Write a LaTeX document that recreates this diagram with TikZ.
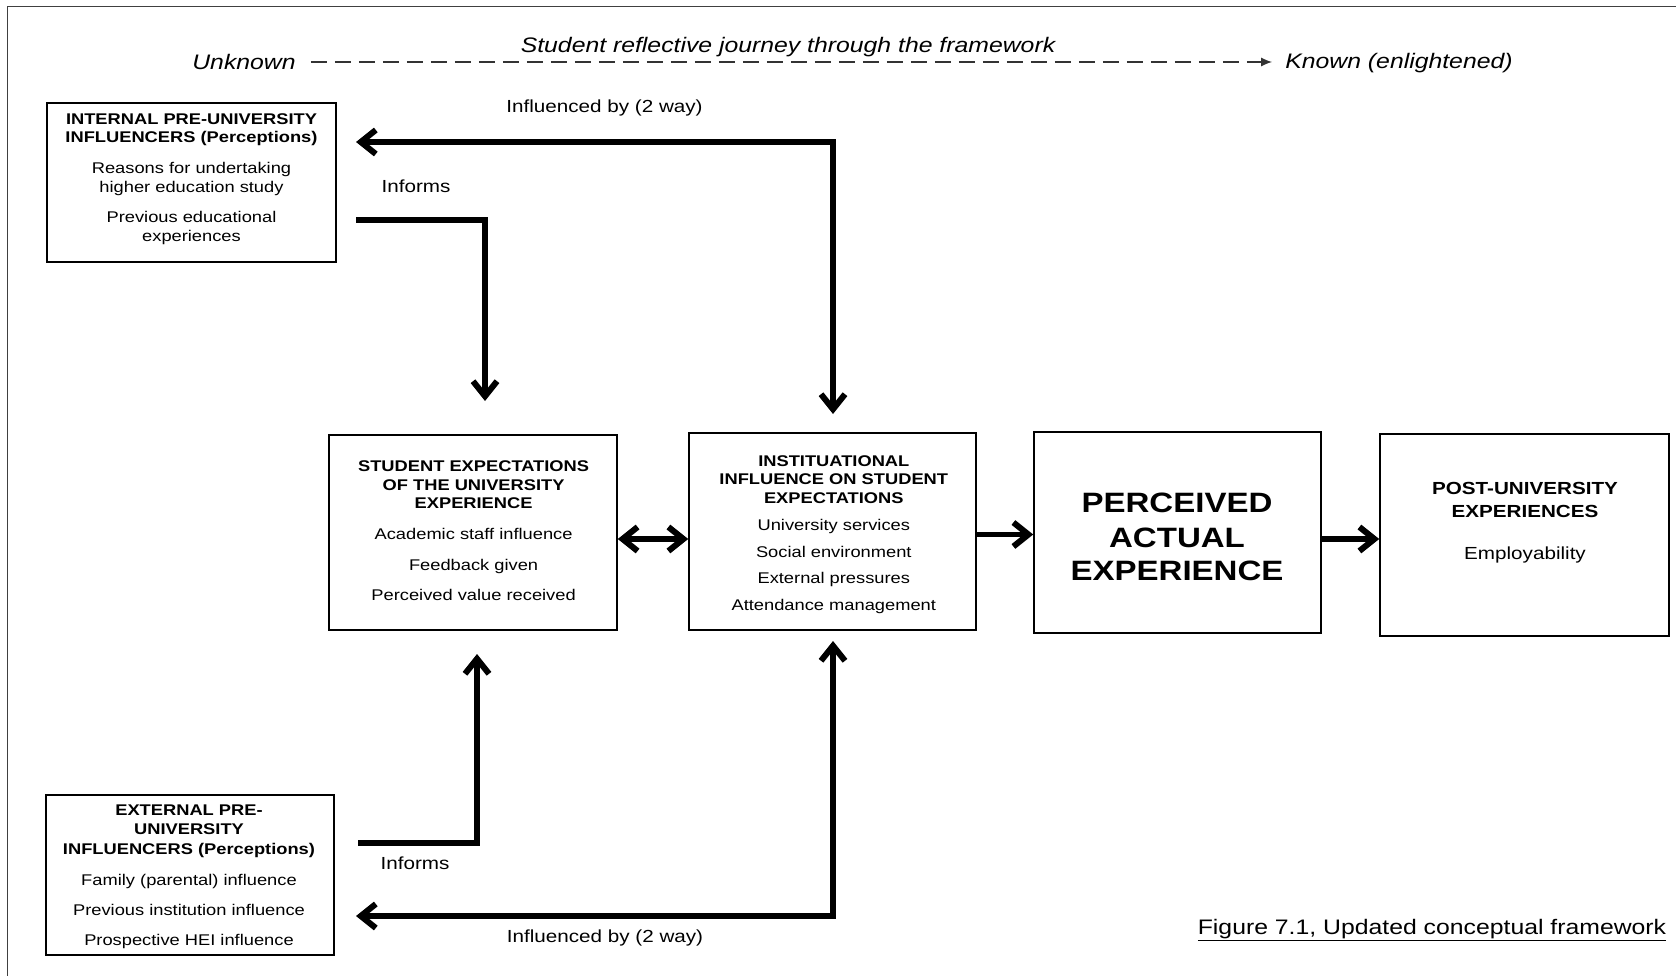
\documentclass[tikz,border=0pt]{standalone}
\usepackage{fontspec}
\setmainfont{Liberation Sans}[FakeStretch=1.18]
\usetikzlibrary{arrows.meta}
\begin{document}
\begin{tikzpicture}[x=1pt,y=-1pt,
  box/.style={draw, line width=1.6pt, inner sep=0pt},
  tx/.style={inner sep=0pt, text height=11pt, text depth=0pt, font=\fontsize{15.5}{18}\selectfont},
  ttl/.style={tx, font=\fontsize{15.5}{18}\selectfont\bfseries},
  big/.style={inner sep=0pt, text height=12.5pt, text depth=0pt, font=\fontsize{17.5}{20}\selectfont},
  bigttl/.style={big, font=\fontsize{17.5}{20}\selectfont\bfseries},
  huge/.style={inner sep=0pt, text height=20pt, text depth=0pt, font=\fontsize{28}{32}\selectfont\bfseries},
  head/.style={inner sep=0pt, text height=15pt, text depth=0pt, font=\fontsize{21}{24}\selectfont\itshape},
  barb/.tip={Straight Barb[length=15pt,width=24pt,line width=6pt]},
  arr/.style={line width=5.5pt, -barb},
  dbl/.style={line width=5.5pt, barb-barb},
  dashline/.style={line width=1.5pt, draw=black!80, dash pattern=on 16pt off 8pt, -{Latex[length=11pt,width=9pt]}}
]
\useasboundingbox (0,0) rectangle (1676,976);
% frame
\draw[line width=1.2pt, draw=black!75] (1676,6.4) -- (7.5,6.4) -- (7.5,976);

% header
\node[head] (title) at (788,45) {Student reflective journey through the framework};
\node[head] (unk) at (244,62) {Unknown};
\node[head] (kn) at (1399,61) {Known (enlightened)};
\draw[dashline] ([xshift=15pt]unk.east) -- ([xshift=-13pt]kn.west |- unk.east);

% boxes
\node[box, minimum width=289pt, minimum height=159pt] (int) at (191.5,182.5) {};
\node[box, minimum width=288pt, minimum height=195pt] (stu) at (473,532.5) {};
\node[box, minimum width=287pt, minimum height=197pt] (ins) at (832.5,531.5) {};
\node[box, minimum width=287pt, minimum height=201pt] (per) at (1177.5,532.5) {};
\node[box, minimum width=289pt, minimum height=202pt] (post) at (1524.5,535) {};
\node[box, minimum width=288pt, minimum height=160pt] (ext) at (190,875) {};

% internal text
\node[ttl] (i1) at (191.5,119) {INTERNAL PRE-UNIVERSITY};
\node[ttl] (i2) at (191.5,137) {INFLUENCERS (Perceptions)};
\node[tx] (i3) at (191.5,168) {Reasons for undertaking};
\node[tx] (i4) at (191.5,187) {higher education study};
\node[tx] (i5) at (191.5,217) {Previous educational};
\node[tx] (i6) at (191.5,236) {experiences};

% student text
\node[ttl] (s1) at (473.6,466) {STUDENT EXPECTATIONS};
\node[ttl] (s2) at (473.6,485) {OF THE UNIVERSITY};
\node[ttl] (s3) at (473.6,503) {EXPERIENCE};
\node[tx] (s4) at (473.6,534) {Academic staff influence};
\node[tx] (s5) at (473.6,565) {Feedback given};
\node[tx] (s6) at (473.6,595) {Perceived value received};

% institutional text
\node[ttl] (n1) at (833.8,461) {INSTITUATIONAL};
\node[ttl] (n2) at (833.8,479) {INFLUENCE ON STUDENT};
\node[ttl] (n3) at (833.8,498) {EXPECTATIONS};
\node[tx] (n4) at (833.8,525) {University services};
\node[tx] (n5) at (833.8,552) {Social environment};
\node[tx] (n6) at (833.8,578) {External pressures};
\node[tx] (n7) at (833.8,605) {Attendance management};

% perceived
\node[huge] (p1) at (1177,502) {PERCEIVED};
\node[huge] (p2) at (1177,537) {ACTUAL};
\node[huge] (p3) at (1177,570) {EXPERIENCE};

% post
\node[bigttl] (q1) at (1525,488) {POST-UNIVERSITY};
\node[bigttl] (q2) at (1525,511) {EXPERIENCES};
\node[big] (q3) at (1525,553) {Employability};

% external text
\node[ttl] (e1) at (189,810) {EXTERNAL PRE-};
\node[ttl] (e2) at (189,829) {UNIVERSITY};
\node[ttl] (e3) at (189,849) {INFLUENCERS (Perceptions)};
\node[tx] (e4) at (189,880) {Family (parental) influence};
\node[tx] (e5) at (189,910) {Previous institution influence};
\node[tx] (e6) at (189,940) {Prospective HEI influence};

% labels
\node[big] (l1) at (604.5,106) {Influenced by (2 way)};
\node[big] (l2) at (416,186) {Informs};
\node[big] (l3) at (415,863) {Informs};
\node[big] (l4) at (605,936) {Influenced by (2 way)};
\node[inner sep=0pt, text height=15pt, text depth=0pt, font=\fontsize{21}{24}\selectfont] (cap) at (1432,927) {\underline{Figure 7.1, Updated conceptual framework}};

% connector end points
\coordinate (iA) at (356,142);
\coordinate (iB) at (356,220);
\coordinate (sT) at (485,401);
\coordinate (nT) at (833,414);
\coordinate (eA) at (358,843);
\coordinate (sB) at (477,654);
\coordinate (eB) at (356,916);
\coordinate (nB) at (833,641);

% connectors
\draw[dbl] (iA) -- (nT |- iA) -- (nT);
\draw[arr] (iB) -- (sT |- iB) -- (sT);
\draw[arr] (eA) -- (sB |- eA) -- (sB);
\draw[dbl] (nB) -- (nB |- eB) -- (eB);
\draw[dbl] ([yshift=-6.5pt]stu.east) -- ([yshift=-7.5pt]ins.west);
\draw[arr] ([yshift=-3pt]ins.east) -- ([yshift=-2pt]per.west);
\draw[arr] ([yshift=-6.5pt]per.east) -- ([yshift=-4pt]post.west);
\end{tikzpicture}
\end{document}
